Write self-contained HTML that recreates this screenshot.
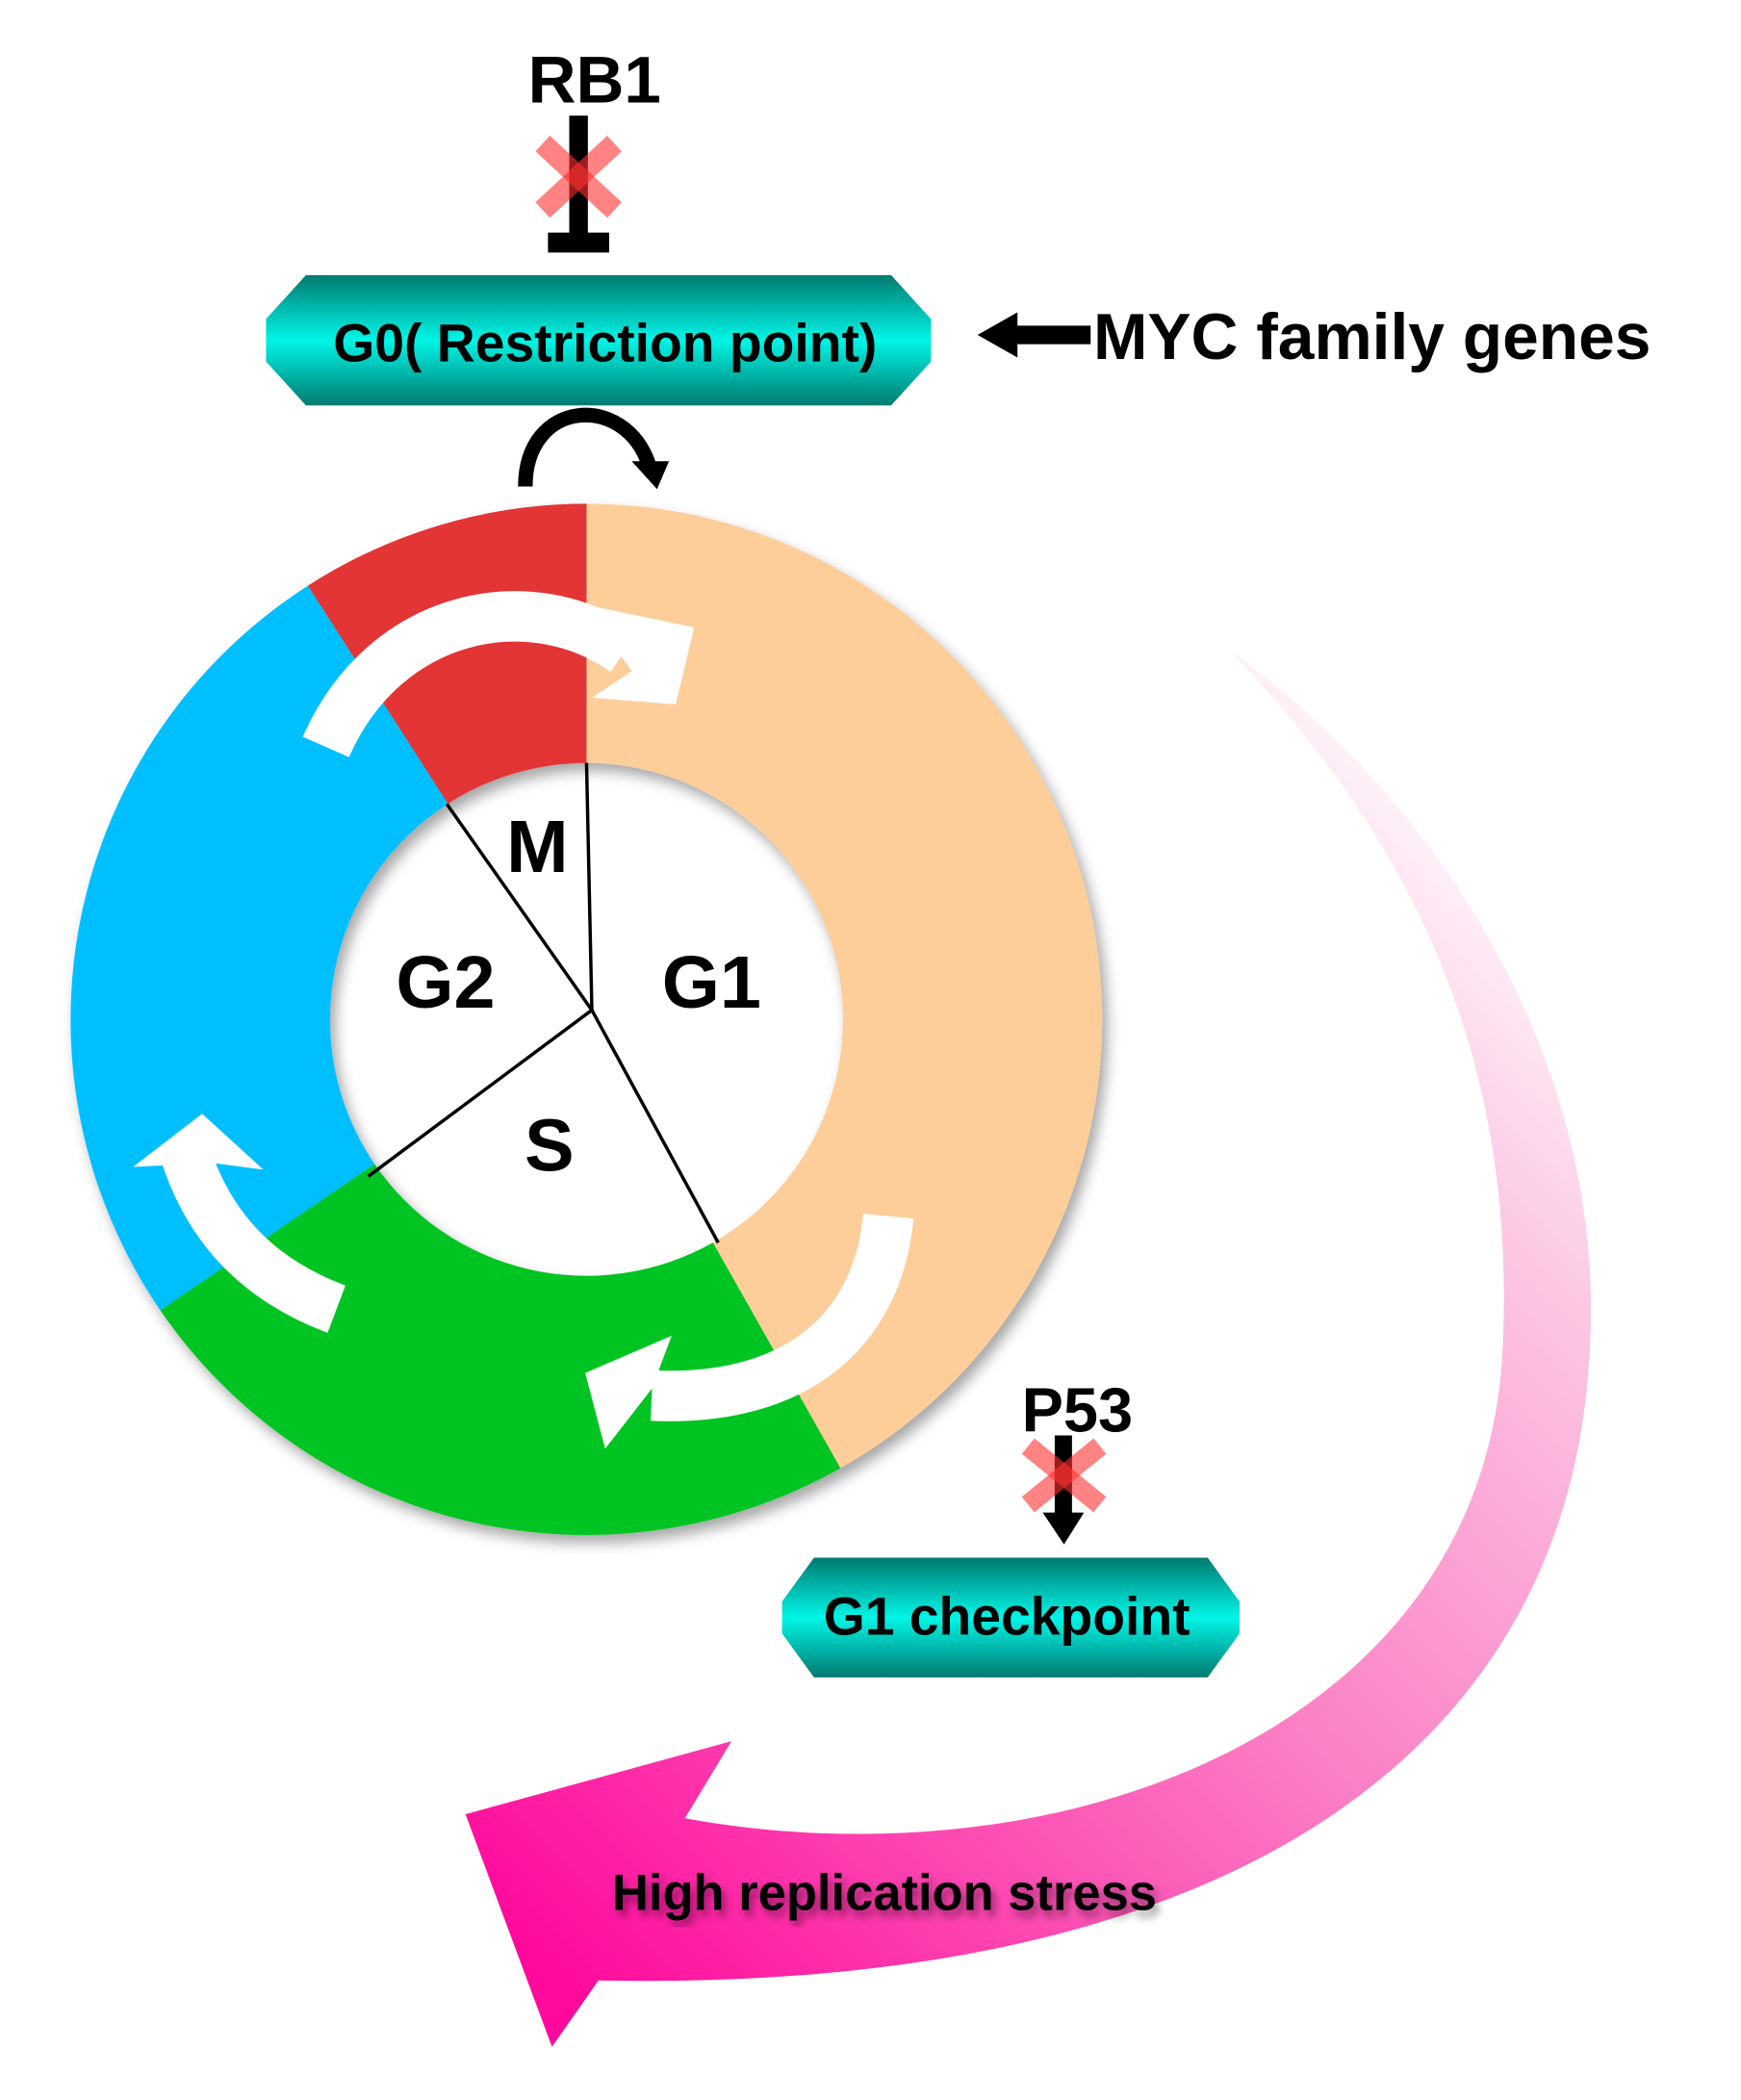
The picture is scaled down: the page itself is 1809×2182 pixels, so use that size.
<!DOCTYPE html>
<html><head><meta charset="utf-8"><style>html,body{margin:0;padding:0;background:#fff}svg{display:block}</style></head>
<body>
<svg width="1809" height="2182" viewBox="0 0 1309 1580" preserveAspectRatio="none" xmlns="http://www.w3.org/2000/svg" font-family="Liberation Sans, Arial, sans-serif" font-weight="bold">
<defs>
<linearGradient id="teal" x1="0" y1="0" x2="0" y2="1">
<stop offset="0" stop-color="#007a70"/><stop offset="0.5" stop-color="#00f5e6"/><stop offset="1" stop-color="#007a70"/>
</linearGradient>
<linearGradient id="pink" gradientUnits="userSpaceOnUse" x1="380" y1="1450" x2="1180" y2="650">
<stop offset="0" stop-color="#ff0a9c"/><stop offset="0.45" stop-color="#fb7cc3"/><stop offset="0.8" stop-color="#fcc8e4"/><stop offset="1" stop-color="#ffffff"/>
</linearGradient>
<filter id="sh" x="-10%" y="-10%" width="120%" height="120%"><feDropShadow dx="4" dy="6" stdDeviation="5" flood-color="#000" flood-opacity="0.35"/></filter>
<filter id="tsh"><feDropShadow dx="3" dy="5" stdDeviation="3" flood-color="#000" flood-opacity="0.4"/></filter>
</defs>

<!-- pink arrow -->
<path d="M925,490 C1080,600 1210,800 1195,1020 C1180,1300 950,1500 450,1490 L415,1540 L350,1365 L550,1310 L515,1368 C800,1420 1120,1300 1130,1010 C1140,780 1050,620 925,490 Z" fill="url(#pink)"/>

<!-- ring -->
<g filter="url(#sh)">
<path d="M441,379 A388,388 0 0 1 631.9,1104.6 L536,934.9 A193,193 0 0 0 441,574 Z" fill="#fdcd9a"/>
<path d="M631.9,1104.6 A388,388 0 0 1 120.5,985.8 L281.6,875.8 A193,193 0 0 0 536,934.9 Z" fill="#00c424"/>
<path d="M120.5,985.8 A388,388 0 0 1 231.5,440.7 L336.8,604.7 A193,193 0 0 0 281.6,875.8 Z" fill="#00bfff"/>
<path d="M231.5,440.7 A388,388 0 0 1 441,379 L441,574 A193,193 0 0 0 336.8,604.7 Z" fill="#e33434"/>
</g>
<!-- inner lines -->
<g stroke="#000" stroke-width="2.5" fill="none">
<line x1="441" y1="574" x2="445" y2="760"/>
<line x1="336" y1="605" x2="445" y2="760"/>
<line x1="277" y1="885" x2="445" y2="760"/>
<line x1="540" y1="935" x2="445" y2="760"/>
</g>
<g font-size="56" text-anchor="middle" fill="#000">
<text x="404" y="656">M</text>
<text x="335" y="758">G2</text>
<text x="535" y="758">G1</text>
<text x="413" y="881">S</text>
</g>

<!-- white arrows -->
<g fill="none" stroke="#fff" stroke-width="38">
<path d="M245,562 C290,460 400,440 470,490"/>
<path d="M253,985 C200,965 160,930 140,870"/>
<path d="M668,915 C660,1000 600,1055 490,1050"/>
</g>
<g fill="#fff">
<polygon points="440,455 522,472 508,530 445,525 475,505"/>
<polygon points="100,878 152,838 198,880 160,875"/>
<polygon points="440,1033 505,1005 490,1045 455,1090"/>
</g>

<!-- RB1 -->
<text x="447" y="77" font-size="50" text-anchor="middle">RB1</text>
<rect x="428" y="87" width="14" height="95" fill="#000"/>
<rect x="412" y="175" width="46" height="15" fill="#000"/>
<g stroke="#ff3030" stroke-opacity="0.6" stroke-width="16"><line x1="408" y1="108" x2="462" y2="158"/><line x1="462" y1="108" x2="408" y2="158"/></g>

<!-- G0 box -->
<polygon points="230,207 670,207 700,240 700,272 670,305 230,305 200,272 200,240" fill="url(#teal)"/>
<text x="455" y="272" font-size="40" text-anchor="middle">G0( Restriction point)</text>

<!-- MYC -->
<polygon points="735,252 765,235 765,245 820,245 820,259 765,259 765,269" fill="#000"/>
<text x="822" y="270" font-size="49">MYC family genes</text>

<!-- curved black arrow -->
<path d="M395,366 C395,300 470,295 488,350" fill="none" stroke="#000" stroke-width="11"/>
<polygon points="475,347 503,347 494,368" fill="#000"/>

<!-- P53 -->
<text x="810" y="1077" font-size="47" text-anchor="middle">P53</text>
<rect x="793" y="1080" width="13" height="60" fill="#000"/>
<polygon points="784,1138 815,1138 800,1162" fill="#000"/>
<g stroke="#ff3030" stroke-opacity="0.6" stroke-width="15"><line x1="773" y1="1088" x2="827" y2="1132"/><line x1="827" y1="1088" x2="773" y2="1132"/></g>

<!-- G1 checkpoint -->
<polygon points="612,1172 908,1172 932,1205 932,1229 908,1262 612,1262 588,1229 588,1205" fill="url(#teal)"/>
<text x="757" y="1230" font-size="40" text-anchor="middle">G1 checkpoint</text>

<text x="665" y="1437" font-size="38" text-anchor="middle" filter="url(#tsh)">High replication stress</text>
</svg>
</body></html>
